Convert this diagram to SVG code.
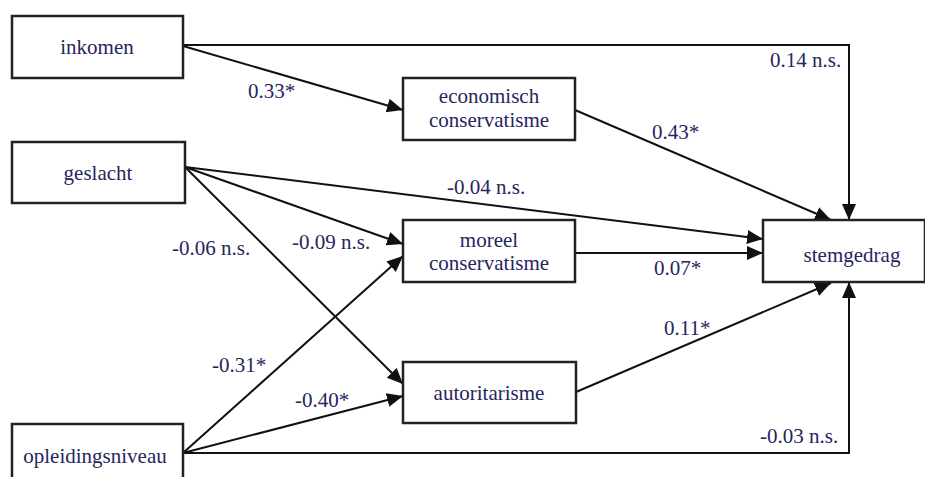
<svg xmlns="http://www.w3.org/2000/svg" width="925" height="477" viewBox="0 0 925 477">
<defs>
<marker id="ah" markerUnits="userSpaceOnUse" markerWidth="18" markerHeight="16" refX="16" refY="7" orient="auto">
<polygon points="0,0 16,7 0,14" fill="#111"/>
</marker>
<style>
.box{fill:#fff;stroke:#222;stroke-width:2.5}
.t{font-size:21px;fill:#26265e;text-anchor:middle}
.l{font-size:21px;fill:#26265e}
.c{fill:none;stroke:#111;stroke-width:2}
</style>
</defs>
<rect width="925" height="477" fill="#fff"/>
<g id="connectors">
<polyline class="c" points="183,45 849,45 849,220" marker-end="url(#ah)"/>
<line class="c" x1="183" y1="46" x2="403" y2="110" marker-end="url(#ah)"/>
<line class="c" x1="575" y1="110" x2="831" y2="220" marker-end="url(#ah)"/>
<line class="c" x1="185" y1="167" x2="763" y2="239" marker-end="url(#ah)"/>
<line class="c" x1="185" y1="167" x2="403" y2="244" marker-end="url(#ah)"/>
<line class="c" x1="185" y1="167" x2="403" y2="384" marker-end="url(#ah)"/>
<line class="c" x1="183" y1="453" x2="403" y2="256" marker-end="url(#ah)"/>
<line class="c" x1="183" y1="453" x2="403" y2="396" marker-end="url(#ah)"/>
<line class="c" x1="575" y1="253" x2="763" y2="253" marker-end="url(#ah)"/>
<line class="c" x1="576" y1="392" x2="831" y2="283" marker-end="url(#ah)"/>
<polyline class="c" points="183,453 849,453 849,282" marker-end="url(#ah)"/>
</g>
<g id="labels" font-family="'Liberation Serif', 'Times New Roman', 'DejaVu Serif', serif">
<text class="l" x="248" y="98">0.33*</text>
<text class="l" x="652" y="139">0.43*</text>
<text class="l" x="770" y="67">0.14 n.s.</text>
<text class="l" x="447" y="194">-0.04 n.s.</text>
<text class="l" x="292" y="249">-0.09 n.s.</text>
<text class="l" x="172" y="255">-0.06 n.s.</text>
<text class="l" x="654" y="275">0.07*</text>
<text class="l" x="664" y="335">0.11*</text>
<text class="l" x="212" y="372">-0.31*</text>
<text class="l" x="295" y="407">-0.40*</text>
<text class="l" x="760" y="443">-0.03 n.s.</text>
</g>
<g font-family="'Liberation Serif', 'Times New Roman', 'DejaVu Serif', serif">
<g id="inkomen"><rect class="box" x="12" y="16" width="171" height="62"/><text class="t" x="97" y="54">inkomen</text></g>
<g id="geslacht"><rect class="box" x="12" y="142" width="173" height="61"/><text class="t" x="98" y="180">geslacht</text></g>
<g id="opleidingsniveau"><rect class="box" x="12" y="424" width="171" height="60"/><text class="t" x="95" y="463">opleidingsniveau</text></g>
<g id="economisch"><rect class="box" x="403" y="78" width="172" height="62"/><text class="t" x="489" y="103">economisch</text><text class="t" x="489" y="127">conservatisme</text></g>
<g id="moreel"><rect class="box" x="403" y="220" width="172" height="62"/><text class="t" x="489" y="247">moreel</text><text class="t" x="489" y="270">conservatisme</text></g>
<g id="autoritarisme"><rect class="box" x="403" y="362" width="173" height="61"/><text class="t" x="489" y="400">autoritarisme</text></g>
<g id="stemgedrag"><rect class="box" x="763" y="220" width="162" height="62"/><text class="t" x="852" y="262">stemgedrag</text></g>
</g>
</svg>
